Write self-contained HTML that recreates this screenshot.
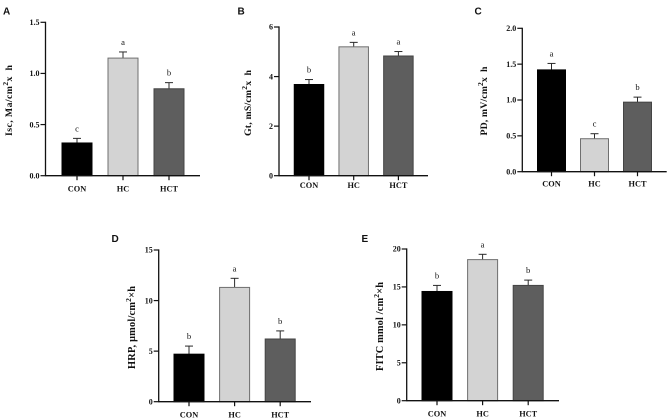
<!DOCTYPE html>
<html lang="en">
<head>
<meta charset="utf-8">
<title>Barrier function bar charts</title>
<style>
html,body{margin:0;padding:0;background:#fff;width:669px;height:420px;overflow:hidden}
svg{display:block;filter:blur(.35px)}
text{font-family:"Liberation Serif",serif;font-weight:bold;fill:#111}
.panel-letter{font-family:"Liberation Sans",sans-serif;font-size:10px;fill:#111}
.tick{font-size:8px}
.cat{font-size:8.3px;text-anchor:middle}
.sig{font-size:8.6px;font-weight:normal;text-anchor:middle}
.sup{font-size:7.5px}
</style>
</head>
<body>
<svg id="figure" width="669" height="420" viewBox="0 0 669 420" xmlns="http://www.w3.org/2000/svg"></svg>
<script>
const categories = ['CON', 'HC', 'HCT'];
const valuesA = [0.32, 1.15, 0.85];
const errorsA = [0.045, 0.06, 0.06];
const lettersA = ['c', 'a', 'b'];
const ticksA = ['0.0', '0.5', '1.0', '1.5'];
const valuesB = [3.68, 5.2, 4.83];
const errorsB = [0.2, 0.18, 0.18];
const lettersB = ['b', 'a', 'a'];
const ticksB = ['0', '2', '4', '6'];
const valuesC = [1.42, 0.46, 0.97];
const errorsC = [0.09, 0.07, 0.07];
const lettersC = ['a', 'c', 'b'];
const ticksC = ['0.0', '0.5', '1.0', '1.5', '2.0'];
const valuesD = [4.7, 11.3, 6.2];
const errorsD = [0.8, 0.9, 0.8];
const lettersD = ['b', 'a', 'b'];
const ticksD = ['0', '5', '10', '15'];
const valuesE = [14.4, 18.6, 15.2];
const errorsE = [0.8, 0.7, 0.7];
const lettersE = ['b', 'a', 'b'];
const ticksE = ['0', '5', '10', '15', '20'];

const fills = ['#000000', '#d3d3d3', '#5e5e5e'];
const strokes = ['#000000', '#6f6f6f', '#444444'];

const panels = [
  {id:'a', letter:'A', lx:3, ly:14.5, left:45.5, right:200, top:22.3, base:175.7, first:77, step:46, barW:30, catY:191.5,
   values:valuesA, errors:errorsA, sig:lettersA, ticks:ticksA, label:'Isc, Ma/cm', sup:'2', tail:'x\u00a0\u00a0h', ylx:12, yly:136, ylen:71, yfont:9.8},
  {id:'b', letter:'B', lx:237.5, ly:14.5, left:279, right:428, top:27, base:175.7, first:309, step:44.7, barW:29.5, catY:188,
   values:valuesB, errors:errorsB, sig:lettersB, ticks:ticksB, label:'Gt, mS/cm', sup:'2', tail:'x\u00a0\u00a0h', ylx:251, yly:136, ylen:66, yfont:9.8},
  {id:'c', letter:'C', lx:474.5, ly:14.5, left:522.3, right:666.7, top:28.3, base:171.7, first:551.5, step:43, barW:28, catY:186.5,
   values:valuesC, errors:errorsC, sig:lettersC, ticks:ticksC, label:'PD, mV/cm', sup:'2', tail:'x\u00a0\u00a0h', ylx:487, yly:135.5, ylen:69, yfont:9.8},
  {id:'d', letter:'D', lx:111.5, ly:242, left:158.7, right:311, top:250, base:401.7, first:189, step:45.6, barW:30, catY:417.5,
   values:valuesD, errors:errorsD, sig:lettersD, ticks:ticksD, label:'HRP, μmol/cm', sup:'2', tail:'×h', ylx:135, yly:369, ylen:83, yfont:10.4},
  {id:'e', letter:'E', lx:361.5, ly:242, left:406.7, right:559, top:249, base:400.7, first:437, step:45.6, barW:30, catY:416.5,
   values:valuesE, errors:errorsE, sig:lettersE, ticks:ticksE, label:'FITC mmol /cm', sup:'2', tail:'×h', ylx:383, yly:371, ylen:89, yfont:10.4}
];

const NS = 'http://www.w3.org/2000/svg';
const svg = document.getElementById('figure');

function make(tag, attrs, parent) {
  const el = document.createElementNS(NS, tag);
  for (const k in attrs) el.setAttribute(k, attrs[k]);
  parent.appendChild(el);
  return el;
}

panels.forEach(function (p) {
  const maxValue = parseFloat(p.ticks[p.ticks.length - 1]);
  const y = function (v) { return p.base - (v / maxValue) * (p.base - p.top); };
  const x = function (i) { return p.first + i * p.step; };

  const group = make('g', {}, svg);
  
  

  const letter = make('text', {x: p.lx, y: p.ly, class: 'panel-letter'}, group);
  letter.textContent = p.letter;
  
  

  p.values.forEach(function (v, i) {
    const cx = x(i);
    const errTop = y(v + p.errors[i]);

    const stem = make('line', {x1: cx, x2: cx, y1: y(v), y2: errTop, stroke: '#2a2a2a', 'stroke-width': 1}, group);
    
    

    const cap = make('line', {x1: cx - 4, x2: cx + 4, y1: errTop, y2: errTop, stroke: '#2a2a2a', 'stroke-width': 1}, group);
    
    

    const bar = make('rect', {x: cx - p.barW / 2, y: y(v), width: p.barW, height: p.base - y(v), fill: fills[i], stroke: strokes[i], 'stroke-width': 1}, group);
    
    

    const sig = make('text', {x: cx, y: errTop - 7, class: 'sig'}, group);
    sig.textContent = p.sig[i];
    
    

    const xTick = make('line', {x1: cx, x2: cx, y1: p.base, y2: p.base + 4.5, stroke: '#111', 'stroke-width': 1.2}, group);
    
    

    const cat = make('text', {x: cx, y: p.catY, class: 'cat'}, group);
    cat.textContent = categories[i];
    
    
  });

  p.ticks.forEach(function (t) {
    const ty = y(parseFloat(t));
    const tick = make('line', {x1: p.left - 5, x2: p.left, y1: ty, y2: ty, stroke: '#111', 'stroke-width': 1.2}, group);
    
    

    const label = make('text', {x: p.left - 6, y: ty + 2.7, class: 'tick', 'text-anchor': 'end'}, group);
    label.textContent = t;
    
    
  });

  const yAxis = make('line', {x1: p.left, x2: p.left, y1: p.top - 0.6, y2: p.base + 0.6, stroke: '#111', 'stroke-width': 1.3}, group);
  
  

  const xAxis = make('line', {x1: p.left, x2: p.right, y1: p.base, y2: p.base, stroke: '#111', 'stroke-width': 1.3}, group);
  
  

  const yTitle = make('text', {'font-size': p.yfont, textLength: p.ylen, lengthAdjust: 'spacing', transform: 'translate(' + p.ylx + ',' + p.yly + ') rotate(-90)'}, group);
  
  
  make('tspan', {}, yTitle).textContent = p.label;
  make('tspan', {class: 'sup', dy: -4}, yTitle).textContent = p.sup;
  make('tspan', {dy: 4}, yTitle).textContent = p.tail;
});
</script>
</body>
</html>
